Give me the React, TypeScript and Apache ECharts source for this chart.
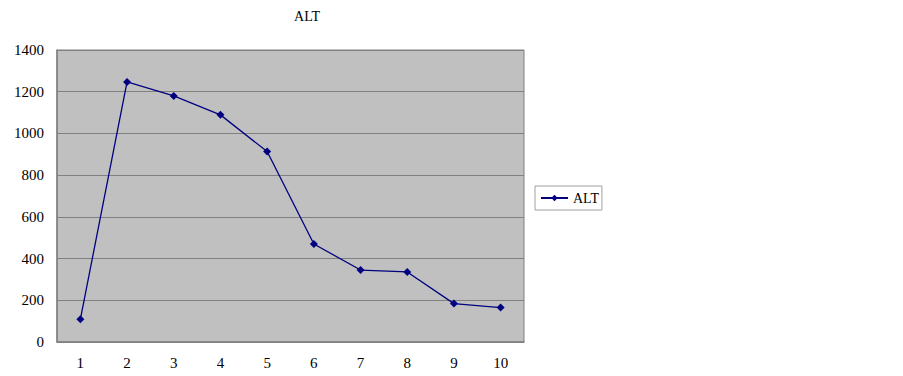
import React, { useEffect, useRef } from "react";
import * as echarts from "echarts";

const categories = ["1", "2", "3", "4", "5", "6", "7", "8", "9", "10"];
const altValues = [109, 1247, 1180, 1089, 913, 470, 345, 336, 184, 165];
const seriesName = "ALT";
const titleText = "ALT";

export default function App() {
  const ref = useRef<HTMLDivElement>(null);
  useEffect(() => {
    document.body.style.margin = "0";
    const chart = echarts.init(ref.current!, null, { renderer: "svg" });
    const font = "'Liberation Serif', 'DejaVu Serif', serif";
    chart.setOption({
      animation: false,
      backgroundColor: "#ffffff",
      title: {
        text: titleText,
        left: 302,
        top: 4,
        textAlign: "center",
        textStyle: { fontFamily: font, fontSize: 14, fontWeight: "normal", color: "#000" },
      },
      legend: {
        data: [seriesName],
        left: 535,
        top: 186,
        orient: "vertical",
        itemWidth: 27,
        itemHeight: 8,
        itemGap: 4,
        padding: [5, 3, 5, 5],
        borderColor: "#a0a0a0",
        borderWidth: 1,
        textStyle: { fontFamily: font, fontSize: 14, color: "#000" },
      },
      grid: {
        left: 57,
        top: 50,
        width: 467,
        height: 292,
        show: true,
        backgroundColor: "#c0c0c0",
        borderColor: "#808080",
        borderWidth: 1,
      },
      xAxis: {
        type: "category",
        data: categories,
        boundaryGap: true,
        axisLine: { lineStyle: { color: "#808080", width: 1.5 } },
        axisTick: { inside: true, length: 5, lineStyle: { color: "#808080" } },
        axisLabel: { fontFamily: font, fontSize: 15, color: "#000", margin: 13 },
      },
      yAxis: {
        type: "value",
        min: 0,
        max: 1400,
        interval: 200,
        axisLine: { show: true, lineStyle: { color: "#808080", width: 1.5 } },
        axisTick: { show: false },
        splitLine: { lineStyle: { color: "#808080", width: 1 } },
        axisLabel: {
          fontFamily: font,
          fontSize: 15,
          color: "#000",
          margin: 13,
          formatter: (v: number) => String(v),
        },
      },
      series: [
        {
          name: seriesName,
          type: "line",
          data: altValues,
          symbol: "diamond",
          symbolSize: 8,
          lineStyle: { color: "#000080", width: 1.3 },
          itemStyle: { color: "#000080" },
        },
      ],
    });
    return () => chart.dispose();
  }, []);
  return <div ref={ref} style={{ width: 903, height: 376 }} />;
}
